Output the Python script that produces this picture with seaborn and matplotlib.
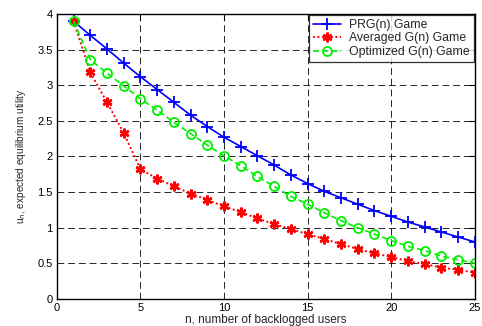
import numpy as np
import pandas as pd
import matplotlib
matplotlib.use("Agg")
import matplotlib.pyplot as plt
from matplotlib.colors import to_hex
import seaborn as sns

# Data
n_users = list(range(1, 26))
prg_game = [3.90, 3.70, 3.51, 3.31, 3.12, 2.94, 2.76, 2.58, 2.42, 2.27,
            2.14, 2.01, 1.88, 1.74, 1.62, 1.51, 1.42, 1.33, 1.24, 1.16,
            1.08, 1.01, 0.94, 0.87, 0.80]
averaged_game = [3.90, 3.18, 2.76, 2.33, 1.82, 1.69, 1.58, 1.48, 1.39, 1.30,
                 1.22, 1.13, 1.05, 0.98, 0.91, 0.84, 0.77, 0.70, 0.64, 0.59,
                 0.53, 0.49, 0.44, 0.41, 0.37]
optimized_game = [3.90, 3.36, 3.17, 2.99, 2.81, 2.65, 2.48, 2.32, 2.16, 2.01,
                  1.87, 1.72, 1.58, 1.44, 1.33, 1.21, 1.10, 1.00, 0.91, 0.82,
                  0.74, 0.68, 0.60, 0.55, 0.50]
labels = ["PRG(n) Game", "Averaged G(n) Game", "Optimized G(n) Game"]
x_ticks = [0, 5, 10, 15, 20, 25]
y_ticks = [0, 0.5, 1, 1.5, 2, 2.5, 3, 3.5, 4]
y_ticklabels = ["0", "0.5", "1", "1.5", "2", "2.5", "3", "3.5", "4"]

df = pd.DataFrame({"n": n_users * 3,
                   "u": prg_game + averaged_game + optimized_game,
                   "game": [labels[0]] * 25 + [labels[1]] * 25 + [labels[2]] * 25})

sns.set_style("white")
plt.rcParams["font.family"] = ["Liberation Sans", "DejaVu Sans"]

palette = {labels[0]: "#0000ff", labels[1]: "#ff0000", labels[2]: "#00f000"}

fig = plt.figure(figsize=(4.82, 3.26), dpi=100)
ax = fig.add_axes([0.118, 0.083, 0.867, 0.874])

sns.lineplot(data=df, x="n", y="u", hue="game", style="game", ax=ax,
             palette=palette, markers=True, dashes=False,
             hue_order=labels, style_order=labels, lw=1.2)


def restyle(line):
    c = to_hex(line.get_color())
    if c == "#0000ff":
        line.set_linestyle("-")
        line.set_marker("+")
        line.set_markersize(8)
        line.set_markeredgewidth(1.3)
        line.set_markeredgecolor(c)
    elif c == "#ff0000":
        line.set_linestyle((0, (1, 1.3)))
        line.set_linewidth(1.4)
        line.set_marker((6, 2, 0))
        line.set_markersize(7)
        line.set_markeredgewidth(1.8)
        line.set_markeredgecolor(c)
        line.set_markerfacecolor(c)
    elif c == "#00f000":
        line.set_linestyle((0, (3.5, 2)))
        line.set_marker("o")
        line.set_markersize(6.5)
        line.set_markeredgewidth(1.3)
        line.set_markeredgecolor(c)
        line.set_markerfacecolor("none")


for line in ax.lines:
    restyle(line)

ax.set_xlim(0, 25)
ax.set_ylim(0, 4)
ax.set_xticks(x_ticks)
ax.set_yticks(y_ticks)
ax.set_yticklabels(y_ticklabels)
ax.grid(True, color="black", linestyle=(0, (7, 4)), linewidth=0.7, alpha=0.85)
ax.tick_params(direction="in", top=True, right=True, length=4, width=0.8,
               labelsize=8, colors="black", pad=3)
for s in ax.spines.values():
    s.set_color("black")
    s.set_linewidth(1.0)

ax.set_xlabel("n, number of backlogged users", fontsize=8.5, labelpad=1)
ax.set_ylabel(r"u$_n$, expected equilibrium utility", fontsize=7.2, labelpad=7)

leg = ax.legend(loc="upper right", fontsize=8.8, frameon=True, fancybox=False,
                edgecolor="black", borderaxespad=0.1, handlelength=2.3,
                handletextpad=0.7, labelspacing=0.12, borderpad=0.3)
leg.get_frame().set_linewidth(0.9)
for h in leg.legend_handles:
    restyle(h)

fig.savefig("out.png", dpi=100)
